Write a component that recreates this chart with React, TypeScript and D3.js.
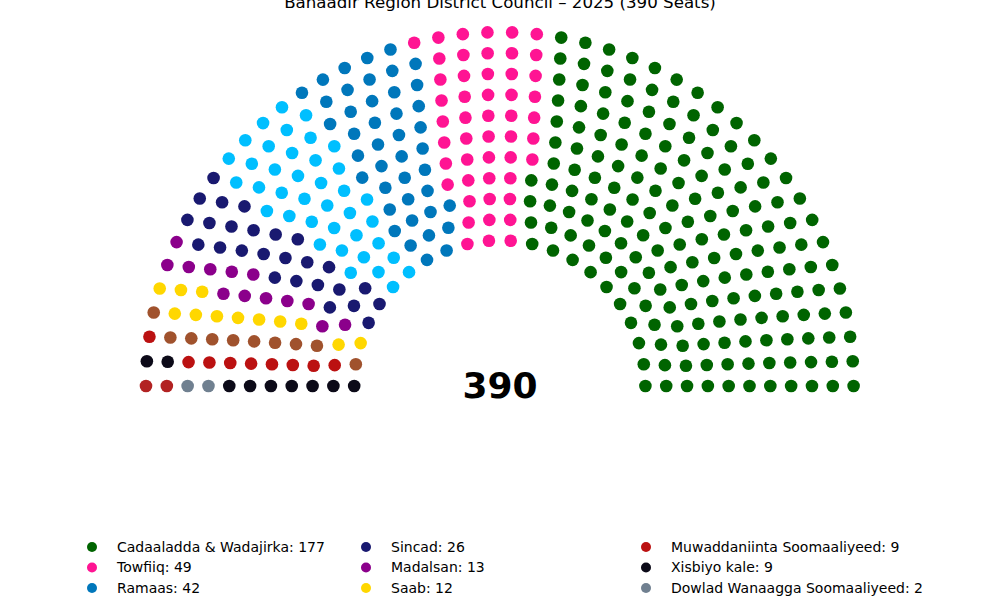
import * as d3 from 'd3';
import { useEffect, useRef } from 'react';

// legend order (largest first); seats are laid out in the reverse order, left to right
const parties = [
  'Cadaaladda & Wadajirka',
  'Towfiiq',
  'Ramaas',
  '',
  'Sincad',
  'Madalsan',
  'Saab',
  '',
  'Muwaddaniinta Soomaaliyeed',
  'Xisbiyo kale',
  'Dowlad Wanaagga Soomaaliyeed',
  '',
];
const seats = [177, 49, 42, 39, 26, 13, 12, 10, 9, 9, 2, 2];
const colors = [
  '#006400',
  '#ff1493',
  '#0077bb',
  '#00bfff',
  '#191970',
  '#8b008b',
  '#ffd700',
  '#a0522d',
  '#bb1111',
  '#0c0a18',
  '#708090',
  '#b22222',
];
// seats in each ring, inner to outer
const ringSeats = [22, 26, 30, 32, 34, 36, 38, 40, 42, 44, 46];
const totalSeats = 390;
const title = 'Banaadir Region District Council \u2013 2025 (390 Seats)';

type Seat = { ring: number; angle: number; x: number; y: number };

export default function App() {
  const w = 1000;
  const h = 600;
  const svgRef = useRef<SVGSVGElement>(null);

  useEffect(() => {
    if (svgRef.current == null) {
      return;
    }
    const svg = d3.select(svgRef.current).select('#change');
    svg.selectAll('*').remove();

    const cx = 499.8;
    const cy = 386;
    const rScale = d3
      .scaleLinear()
      .domain([0, ringSeats.length - 1])
      .range([145.6, 353.8]);

    const all: Seat[] = [];
    ringSeats.forEach((n, ring) => {
      const r = rScale(ring);
      const aScale = d3
        .scaleLinear()
        .domain([0, n - 1])
        .range([Math.PI, 0]);
      for (let i = 0; i < n; i++) {
        const a = aScale(i);
        all.push({ ring, angle: a, x: cx + r * Math.cos(a), y: cy - r * Math.sin(a) });
      }
    });
    all.sort((a, b) => {
      if (Math.abs(a.angle - b.angle) > 1e-9) return b.angle - a.angle;
      if (Math.abs(a.y - b.y) > 1e-6) return b.y - a.y;
      return a.x - b.x;
    });

    // assign seats to parties, smallest party first from the left
    const order = d3.range(parties.length).reverse();
    let pos = 0;
    order.forEach((p) => {
      for (let s = 0; s < seats[p]; s++) {
        const seat = all[pos++];
        if (!seat) return;
        svg
          .append('circle')
          .attr('cx', seat.x)
          .attr('cy', seat.y)
          .attr('r', 6.3)
          .attr('fill', colors[p]);
      }
    });

    svg
      .append('text')
      .attr('x', 500)
      .attr('y', 398)
      .attr('text-anchor', 'middle')
      .style('font', 'bold 36px "DejaVu Sans"')
      .text(String(totalSeats));

    svg
      .append('text')
      .attr('x', 500)
      .attr('y', 7.5)
      .attr('text-anchor', 'middle')
      .style('font', '16.67px "DejaVu Sans"')
      .text(title);

    // legend: 3 columns, filled column by column
    const colX = [92, 366, 646];
    const rowY = d3
      .scaleLinear()
      .domain([0, 1])
      .range([547, 567.5]);
    parties.forEach((name, i) => {
      if (!name) return;
      const col = Math.floor(i / 4);
      const row = i % 4;
      const g = svg.append('g').attr('transform', `translate(${colX[col]}, ${rowY(row)})`);
      g.append('circle').attr('r', 5).attr('fill', colors[i]);
      g.append('text')
        .attr('x', 25)
        .attr('dy', '0.35em')
        .style('font', '14px "DejaVu Sans"')
        .attr('fill', '#000')
        .text(`${name}: ${seats[i]}`);
    });
  }, []);

  return (
    <svg
      id='svg'
      ref={svgRef}
      width={w}
      height={h}
      style={{ position: 'absolute', left: 0, top: 0, background: '#fff' }}
    >
      <g id='change'></g>
    </svg>
  );
}
